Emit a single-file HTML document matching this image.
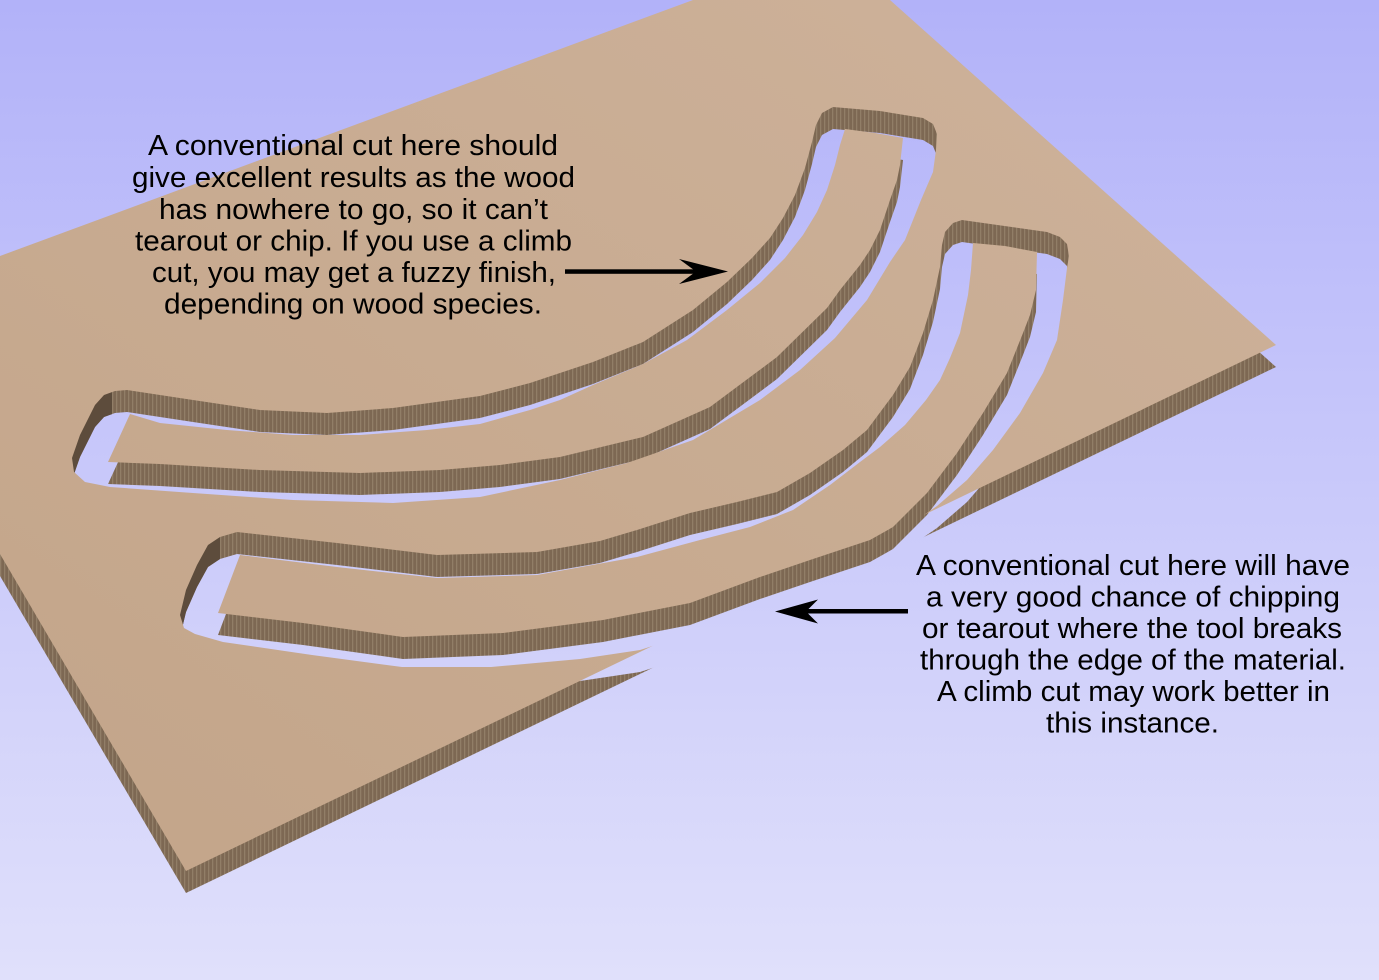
<!DOCTYPE html>
<html><head><meta charset="utf-8"><style>
html,body{margin:0;padding:0;width:1379px;height:980px;overflow:hidden;background:#c8c8fa;}
svg{display:block;overflow:hidden}
text{font-family:"Liberation Sans",Arial,sans-serif;font-size:29px;fill:#000;}
</style></head><body>
<svg width="1379" height="980" viewBox="0 0 1379 980" xmlns="http://www.w3.org/2000/svg">
<defs>
<linearGradient id="bg" gradientUnits="userSpaceOnUse" x1="0" y1="0" x2="0" y2="980">
<stop offset="0" stop-color="#b2b2f9"/><stop offset="1" stop-color="#e0e0fb"/>
</linearGradient>
<linearGradient id="wood" gradientUnits="userSpaceOnUse" x1="900" y1="0" x2="300" y2="900">
<stop offset="0" stop-color="#ccb098"/><stop offset="0.5" stop-color="#c8ab91"/><stop offset="1" stop-color="#c4a68b"/>
</linearGradient>
<pattern id="side" patternUnits="userSpaceOnUse" width="4" height="4">
<rect width="4" height="4" fill="#7d6853"/><rect width="1.3" height="4" fill="#917e67"/>
</pattern>
<path id="board" d="M0,256 L693,0 L890,0 L1276,345 L186,871 L0,554 Z"/>
<path id="H1" d="M115,391 L127,390 L193,400 L260,410 L327,413 L393,408 L480,396 L530,383 L560,373 L593,362 L643,342 L693,310 L727,282 L752,258 L770,238 L783,218 L795,195 L805,168 L812,142 L816,125 L822,113 L833,107 L880,111 L923,118 L933,124 L937,134 L936,150 L933,172 L921,200 L905,240 L890,262 L867,300 L835,338 L800,370 L760,400 L693,440 L627,463 L560,480 L480,497 L393,503 L293,500 L193,493 L110,487 L85,482 L74,472 L72,458 L80,435 L95,405 L104,395 Z"/>
<path id="B1" d="M130,414 L160,423 L227,430 L293,435 L360,435 L427,430 L480,424 L530,410 L560,400 L593,385 L643,364 L687,340 L727,310 L760,283 L785,258 L803,235 L817,212 L827,190 L835,165 L840,145 L845,129 L875,133 L903,138 L900,165 L897,180 L890,200 L880,230 L870,250 L860,265 L840,290 L827,308 L777,357 L710,407 L643,437 L560,457 L500,465 L440,470 L360,473 L260,470 L160,464 L108,462 Z"/>
<path id="H2" d="M220,537 L237,532 L337,543 L437,555 L537,552 L600,541 L637,530 L690,513 L737,502 L777,492 L810,473 L843,450 L867,430 L893,395 L910,367 L923,333 L933,300 L940,267 L942,245 L945,232 L953,223 L962,220 L1047,232 L1060,237 L1067,244 L1069,256 L1067,268 L1063,300 L1057,340 L1043,373 L1020,413 L993,450 L967,480 L937,506 L921,517 L910,530 L890,550 L860,570 L800,600 L740,625 L690,638 L668,641 L640,650 L580,659 L491,667 L402,667 L312,655 L223,642 L195,634 L184,628 L180,615 L186,590 L197,565 L208,545 Z"/>
<path id="B2" d="M240,555 L337,567 L437,578 L537,575 L637,557 L700,540 L750,527 L793,510 L830,485 L860,462 L880,447 L905,425 L926,400 L940,380 L950,358 L960,333 L968,295 L971,270 L973,243 L1005,246 L1037,252 L1036,290 L1030,315 L1023,333 L1007,373 L983,413 L957,453 L927,493 L893,527 L870,540 L810,560 L760,577 L690,603 L603,620 L503,633 L403,637 L303,623 L218,613 Z"/>
<mask id="bm" maskUnits="userSpaceOnUse" x="0" y="0" width="1379" height="980">
<use href="#board" fill="#fff"/>
<use href="#H1" fill="#000"/>
<use href="#H2" fill="#000"/>
</mask>
<mask id="bms" maskUnits="userSpaceOnUse" x="0" y="-22" width="1379" height="980">
<use href="#board" fill="#fff"/>
<use href="#H1" fill="#000"/>
<use href="#H2" fill="#000"/>
</mask>
<clipPath id="leftEnds">
<rect x="60" y="385" width="52" height="105"/>
<rect x="170" y="525" width="50" height="118"/>
</clipPath>
</defs>

<rect x="0" y="0" width="1379" height="980" fill="url(#bg)"/>

<g transform="translate(0,22)">
<rect x="0" y="-22" width="1379" height="980" fill="url(#side)" mask="url(#bms)"/>
</g>
<g clip-path="url(#leftEnds)">
<g transform="translate(0,22)">
<rect x="0" y="-22" width="1379" height="980" fill="#5d4c3c" mask="url(#bms)"/>
</g>
</g>

<g transform="translate(0,22)">
<use href="#B1" fill="url(#side)"/>
<use href="#B2" fill="url(#side)"/>
</g>

<rect x="0" y="0" width="1379" height="980" fill="url(#wood)" mask="url(#bm)"/>

<use href="#B1" fill="url(#wood)"/>
<use href="#B2" fill="url(#wood)"/>

<rect x="565" y="269.3" width="132" height="4.5" fill="#000"/>
<polygon points="728,271.5 679,259 696,271.5 679,284" fill="#000"/>
<rect x="806" y="609" width="102" height="4.5" fill="#000"/>
<polygon points="775,611.5 818,599.5 806,611.5 818,623.5" fill="#000"/>

<text x="148" y="155" textLength="410" lengthAdjust="spacingAndGlyphs">A conventional cut here should</text>
<text x="132" y="187" textLength="443" lengthAdjust="spacingAndGlyphs">give excellent results as the wood</text>
<text x="159" y="219" textLength="389" lengthAdjust="spacingAndGlyphs">has nowhere to go, so it can’t</text>
<text x="135" y="250.5" textLength="437" lengthAdjust="spacingAndGlyphs">tearout or chip. If you use a climb</text>
<text x="152" y="282" textLength="404" lengthAdjust="spacingAndGlyphs">cut, you may get a fuzzy finish,</text>
<text x="164" y="313.5" textLength="378" lengthAdjust="spacingAndGlyphs">depending on wood species.</text>

<text x="916" y="575" textLength="434" lengthAdjust="spacingAndGlyphs">A conventional cut here will have</text>
<text x="926" y="606.5" textLength="414" lengthAdjust="spacingAndGlyphs">a very good chance of chipping</text>
<text x="922" y="638" textLength="420" lengthAdjust="spacingAndGlyphs">or tearout where the tool breaks</text>
<text x="920" y="669.5" textLength="426" lengthAdjust="spacingAndGlyphs">through the edge of the material.</text>
<text x="937" y="701" textLength="393" lengthAdjust="spacingAndGlyphs">A climb cut may work better in</text>
<text x="1046" y="732.5" textLength="173" lengthAdjust="spacingAndGlyphs">this instance.</text>
</svg>
</body></html>
